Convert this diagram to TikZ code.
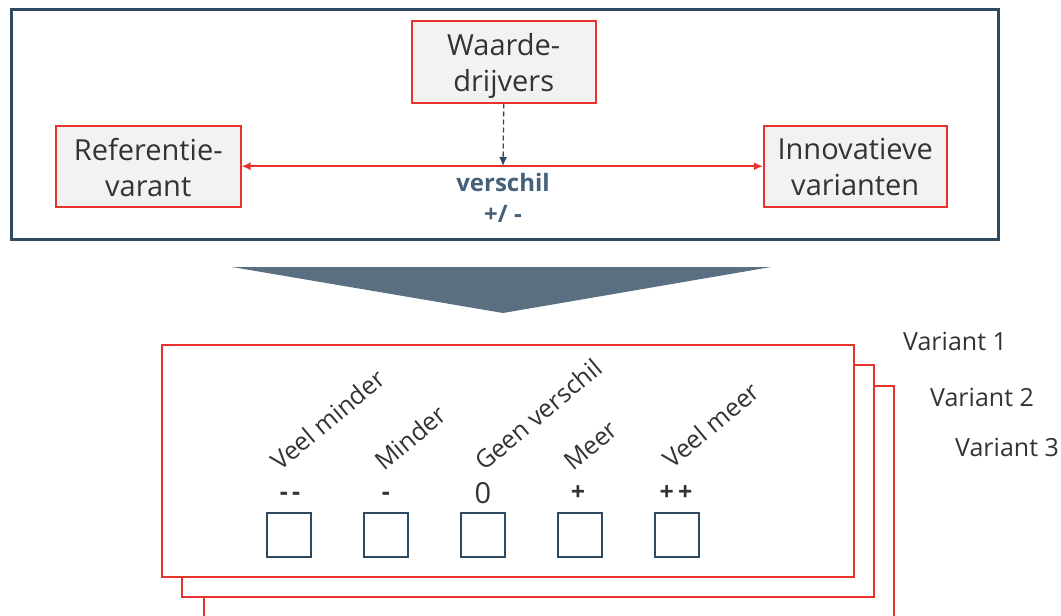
\documentclass[tikz,border=0pt]{standalone}
\usepackage{fontspec}
\setmainfont{Open Sans}
\usetikzlibrary{arrows.meta}
\definecolor{rd}{HTML}{E8332C}
\definecolor{slate}{HTML}{2F4A60}
\definecolor{tri}{HTML}{5A6F82}
\definecolor{txtblue}{HTML}{44607A}
\definecolor{boxfill}{HTML}{F2F2F3}
\definecolor{txt}{HTML}{333333}
\tikzset{
  redbox/.style={draw=rd, line width=1.5pt, fill=boxfill, inner sep=0pt},
  boxtext/.style={text=txt, font=\fontsize{29}{36}\selectfont, align=center, inner sep=0pt},
  card/.style={draw=rd, line width=2pt, fill=white},
  chk/.style={draw=slate, line width=2.6pt, minimum width=44pt, minimum height=44pt, inner sep=0pt},
  sym/.style={text=txt, font=\fontsize{25}{26}\selectfont\bfseries, anchor=base},
  rlab/.style={text=txt, font=\fontsize{25}{28}\selectfont, rotate=40, anchor=base west, inner sep=0pt},
  vlab/.style={text=txt, font=\fontsize{25}{28}\selectfont, anchor=base west, inner sep=0pt},
  blue/.style={text=txtblue, font=\fontsize{24}{28}\selectfont\bfseries, anchor=base},
}
\begin{document}
\begin{tikzpicture}[x=1pt,y=-1pt]
\useasboundingbox (0,0) rectangle (1061,616);
% top frame
\node[draw=slate, line width=3pt, minimum width=987pt, minimum height=230pt, inner sep=0pt, anchor=north west] (frame) at (10,8) {};
\node[redbox, minimum width=184pt, minimum height=82pt, anchor=north west] (wd) at (411,20) {};
\node[boxtext] (wdt) at ([yshift=-4pt]wd.center) {Waarde-\\drijvers};
\node[redbox, minimum width=185pt, minimum height=81pt, anchor=north west] (ref) at (55,125) {};
\node[boxtext] (reft) at ([yshift=-1pt]ref.center) {Referentie-\\varant};
\node[redbox, minimum width=183pt, minimum height=81pt, anchor=north west] (inn) at (763,125) {};
\node[boxtext] (innt) at ([yshift=-1pt]inn.center) {Innovatieve\\varianten};
\draw[rd, line width=2pt, {Latex[length=9pt,width=8pt]}-{Latex[length=9pt,width=8pt]}] (ref.east) -- (inn.west);
\coordinate (hit) at (503,166);
\draw[slate, line width=1.3pt, dashed, dash pattern=on 5pt off 3pt, -{Latex[length=9pt,width=8pt]}] (wd.south) -- (hit);
\node[blue] (vs) at (503,191) {verschil};
\node[blue] (pm) at (503,222) {+/ -};
% triangle
\fill[tri] (232,267) -- (771,267) -- (503,313) -- cycle;
% cards
\draw[card] (204,386) rectangle (894,630);
\draw[card] (182,365) rectangle (874,597);
\draw[card] (162,345) rectangle (854,577);
% checkboxes
\foreach \i/\x in {1/289,2/386,3/483,4/580,5/677}{
  \node[chk] (c\i) at (\x,535) {};
}
\node[sym] (s1) at (290,500) {-\,-};
\node[sym] (s2) at (386,500) {-};
\node[text=txt, font=\fontsize{29}{30}\selectfont, anchor=base] (s3) at (483,503) {0};
\node[sym] (s4) at (578,500) {+};
\node[sym] (s5) at (676,500) {+\,+};
\node[rlab] (l1) at (280,472) {Veel minder};
\node[rlab] (l2) at (384,472) {Minder};
\node[rlab] (l3) at (484,472) {Geen verschil};
\node[rlab] (l4) at (573,472) {Meer};
\node[rlab] (l5) at (672,470) {Veel meer};
\node[vlab] (v1) at (903,350) {Variant 1};
\node[vlab] (v2) at (930,406) {Variant 2};
\node[vlab] (v3) at (955,456) {Variant 3};
\end{tikzpicture}
\end{document}
